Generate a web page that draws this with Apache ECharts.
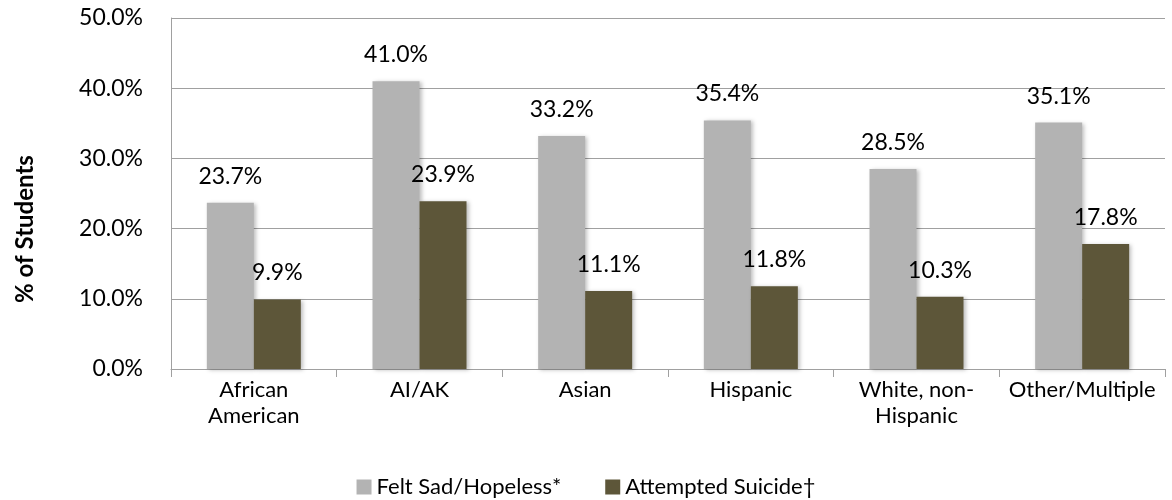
<!DOCTYPE html>
<html><head><meta charset="utf-8">
<script src="https://cdn.jsdelivr.net/npm/echarts@6/dist/echarts.min.js"></script>
<style>html,body{margin:0;padding:0;background:#fff}#c{width:1172px;height:500px}</style>
</head><body><div id="c"></div>
<script>
var categories = ['African\nAmerican', 'AI/AK', 'Asian', 'Hispanic', 'White, non-\nHispanic', 'Other/Multiple'];
var sadHopeless = [23.7, 41.0, 33.2, 35.4, 28.5, 35.1];
var attemptedSuicide = [9.9, 23.9, 11.1, 11.8, 10.3, 17.8];
var seriesNames = ['Felt Sad/Hopeless*', 'Attempted Suicide\u2020'];
var yTicks = [0, 10, 20, 30, 40, 50];

var FONT = 'Lato';
var chart = echarts.init(document.getElementById('c'), null, {renderer: 'canvas'});
var lbl = {show: true, position: 'top', distance: 15, color: '#000', fontFamily: FONT, fontSize: 23,
  formatter: function (p) { return p.value.toFixed(1) + '%'; }};
var shadow = {shadowBlur: 4, shadowColor: 'rgba(0,0,0,0.25)', shadowOffsetX: 2, shadowOffsetY: 1};
chart.setOption({
  animation: false,
  textStyle: {fontFamily: FONT},
  grid: {left: 171, right: 7, top: 18, bottom: 131, containLabel: false},
  legend: {
    top: 471, left: 'center', itemWidth: 15, itemHeight: 15, itemGap: 44,
    icon: 'rect',
    textStyle: {fontFamily: FONT, fontSize: 22, color: '#000'},
    data: seriesNames
  },
  xAxis: {
    type: 'category', data: categories,
    axisLine: {lineStyle: {color: '#a0a0a0', width: 1}},
    axisTick: {show: true, length: 8, lineStyle: {color: '#a0a0a0'}},
    axisLabel: {color: '#000', fontFamily: FONT, fontSize: 22, lineHeight: 26, margin: 8, interval: 0}
  },
  yAxis: {
    type: 'value', min: yTicks[0], max: yTicks[yTicks.length - 1], interval: 10,
    name: '% of Students', nameLocation: 'middle', nameRotate: 90, nameGap: 134,
    nameTextStyle: {fontFamily: FONT, fontSize: 24, fontWeight: 'bold', color: '#000', padding: [0, 71, 0, 0]},
    axisLine: {show: true, lineStyle: {color: '#a0a0a0'}},
    axisTick: {show: false},
    splitLine: {lineStyle: {color: '#a0a0a0', width: 1}},
    axisLabel: {color: '#000', fontFamily: FONT, fontSize: 23, margin: 28, padding: [4, 0, 0, 0],
      formatter: function (v) { return v.toFixed(1) + '%'; }}
  },
  series: [
    {name: seriesNames[0], type: 'bar', data: sadHopeless, barWidth: 47, barGap: '0%',
      itemStyle: Object.assign({color: '#b3b3b3'}, shadow), label: lbl},
    {name: seriesNames[1], type: 'bar', data: attemptedSuicide, barWidth: 47,
      itemStyle: Object.assign({color: '#5d5639'}, shadow), label: lbl}
  ]
});
</script></body></html>
